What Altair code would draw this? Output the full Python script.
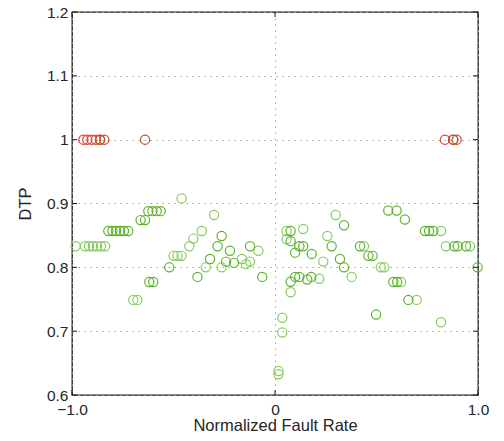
import altair as alt
import pandas as pd

# Normalized fault rate (x) and DTP (y), grouped by marker colour
x_green_dark = [-0.821, -0.801, -0.783, -0.764, -0.744, -0.723, -0.662, -0.640,
                -0.624, -0.604, -0.583, -0.563, -0.619, -0.600, -0.521, -0.382,
                -0.320, -0.283, -0.263, -0.222, -0.123, -0.241, -0.202, -0.063,
                0.340, 0.077, 0.077, 0.120, 0.139, 0.099, 0.181, 0.279, 0.320,
                0.340, 0.419, 0.099, 0.120, 0.077, 0.159, 0.179, 0.558, 0.599,
                0.640, 0.739, 0.759, 0.780, 0.883, 0.900, 0.941, 0.460, 0.481,
                0.583, 0.602, 0.657, 0.498, 0.998]
y_green_dark = [0.857, 0.857, 0.857, 0.857, 0.857, 0.857, 0.874, 0.874,
                0.888, 0.888, 0.888, 0.888, 0.777, 0.777, 0.800, 0.785,
                0.813, 0.833, 0.849, 0.826, 0.833, 0.809, 0.807, 0.785,
                0.866, 0.857, 0.841, 0.833, 0.833, 0.823, 0.821, 0.833, 0.813,
                0.800, 0.833, 0.785, 0.785, 0.7775, 0.781, 0.785, 0.889, 0.889,
                0.875, 0.857, 0.857, 0.857, 0.833, 0.833, 0.833, 0.818, 0.818,
                0.777, 0.777, 0.749, 0.726, 0.800]

x_green_light = [-0.982, -0.936, -0.916, -0.897, -0.877, -0.857, -0.837,
                 -0.698, -0.678, -0.500, -0.480, -0.460, -0.422, -0.402, -0.361,
                 -0.341, -0.460, -0.300, -0.082, -0.263, -0.163, -0.143, -0.123,
                 0.299, 0.057, 0.139, 0.057, 0.258, 0.238, 0.378, 0.438, 0.218,
                 0.077, 0.036, 0.036, 0.017, 0.017, 0.818, 0.842, 0.961, 0.521,
                 0.538, 0.621, 0.698, 0.818]
y_green_light = [0.833, 0.833, 0.833, 0.833, 0.833, 0.833, 0.833,
                 0.749, 0.749, 0.818, 0.818, 0.818, 0.833, 0.845, 0.857,
                 0.800, 0.908, 0.882, 0.826, 0.800, 0.813, 0.805, 0.809,
                 0.882, 0.857, 0.860, 0.844, 0.849, 0.809, 0.785, 0.833, 0.782,
                 0.761, 0.721, 0.698, 0.6376, 0.6324, 0.857, 0.833, 0.833, 0.800,
                 0.800, 0.777, 0.749, 0.714]

x_red = [-0.944, -0.925, -0.882, -0.862, 0.837, 0.878]
y_red = [1.0, 1.0, 1.0, 1.0, 1.0, 1.0]

x_brown = [-0.903, -0.862, -0.841, -0.640, 0.878, 0.895]
y_brown = [1.0, 1.0, 1.0, 1.0, 1.0, 1.0]

x_tick_values = [-1.0, 0.0, 1.0]
y_tick_values = [0.6, 0.7, 0.8, 0.9, 1.0, 1.1, 1.2]

groups = ["light", "dark", "red", "brown"]
group_colors = ["#86cc5e", "#5cb32e", "#ec3b33", "#b5552a"]

frames = []
for name, xs, ys in [("light", x_green_light, y_green_light),
                     ("dark", x_green_dark, y_green_dark),
                     ("red", x_red, y_red),
                     ("brown", x_brown, y_brown)]:
    frames.append(pd.DataFrame({"rate": xs, "dtp": ys, "group": name}))
points_df = pd.concat(frames, ignore_index=True)

W, H = 406, 383
FONT = "Liberation Sans"
TEXT = "#262626"
TICK_LEN = 5

x_scale = alt.Scale(domain=[-1, 1], nice=False, zero=False)
y_scale = alt.Scale(domain=[0.6, 1.2], nice=False, zero=False)

x_axis = alt.Axis(
    values=x_tick_values,
    title="Normalized Fault Rate",
    labelExpr="datum.value == 0 ? '0' : replace(format(datum.value, '.1f'), '-', '\u2212')",
    grid=True, gridColor="#a0a0a0", gridDash=[1.5, 4.5], gridWidth=1,
    domain=False, ticks=False, tickSize=0,
    labelPadding=7, labelFontSize=15.5, labelFont=FONT, labelColor=TEXT,
    labelFlush=False, labelOverlap=False, labelBound=False,
    titleFontSize=16.5, titleFont=FONT, titleColor=TEXT, titleFontWeight="normal",
    titlePadding=0,
)
y_axis = alt.Axis(
    values=y_tick_values,
    title="DTP",
    labelExpr="format(datum.value, '~g')",
    grid=True, gridColor="#a0a0a0", gridDash=[1.5, 4.5], gridWidth=1,
    domain=False, ticks=False, tickSize=0,
    labelPadding=4, labelFontSize=15.5, labelFont=FONT, labelColor=TEXT,
    labelFlush=False, labelOverlap=False, labelBound=False,
    titleFontSize=16.5, titleFont=FONT, titleColor=TEXT, titleFontWeight="normal",
    titlePadding=13,
)

points = alt.Chart(points_df).mark_point(
    shape="circle", filled=False, size=85, strokeWidth=1.2, opacity=1
).encode(
    x=alt.X("rate:Q", scale=x_scale, axis=x_axis),
    y=alt.Y("dtp:Q", scale=y_scale, axis=y_axis),
    color=alt.Color("group:N", scale=alt.Scale(domain=groups, range=group_colors), legend=None),
    order=alt.Order("order:Q"),
).transform_calculate(
    order="indexof(['light','dark','red','brown'], datum.group)"
)

# inward tick marks on all four sides of the frame
y_ticks_df = pd.DataFrame({"dtp": y_tick_values})
x_ticks_df = pd.DataFrame({"rate": x_tick_values})
tick_style = dict(color="#1a1a1a", strokeWidth=1)

left_ticks = alt.Chart(y_ticks_df).mark_rule(**tick_style).encode(
    y=alt.Y("dtp:Q", scale=y_scale, axis=y_axis),
    x=alt.value(0), x2=alt.value(TICK_LEN))
right_ticks = alt.Chart(y_ticks_df).mark_rule(**tick_style).encode(
    y=alt.Y("dtp:Q", scale=y_scale, axis=y_axis),
    x=alt.value(W - TICK_LEN), x2=alt.value(W))
bottom_ticks = alt.Chart(x_ticks_df).mark_rule(**tick_style).encode(
    x=alt.X("rate:Q", scale=x_scale, axis=x_axis),
    y=alt.value(H - TICK_LEN), y2=alt.value(H))
top_ticks = alt.Chart(x_ticks_df).mark_rule(**tick_style).encode(
    x=alt.X("rate:Q", scale=x_scale, axis=x_axis),
    y=alt.value(0), y2=alt.value(TICK_LEN))

chart = alt.layer(
    points, left_ticks, right_ticks, bottom_ticks, top_ticks
).properties(
    width=W, height=H,
    autosize=alt.AutoSizeParams(type="none"),
    padding={"left": 72, "top": 12, "right": 26, "bottom": 46},
    background="white",
).configure_view(
    stroke="#1a1a1a", strokeWidth=1.3
)

chart.save("out.html", embed_options={"renderer": "svg", "actions": False})
